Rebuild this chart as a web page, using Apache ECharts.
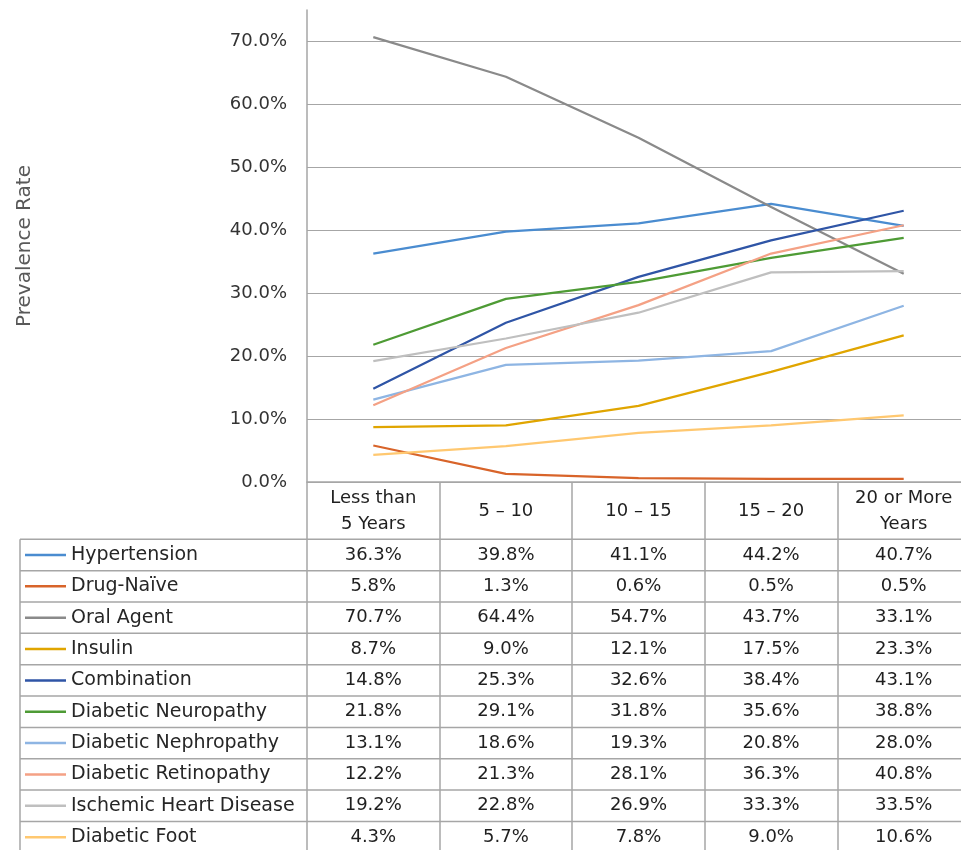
<!DOCTYPE html>
<html>
<head>
<meta charset="utf-8">
<script src="https://cdn.jsdelivr.net/npm/echarts@6/dist/echarts.min.js"></script>
<style>
  html, body { margin: 0; padding: 0; background: #fff; }
  #main { width: 961px; height: 850px; }
</style>
</head>
<body>
<div id="main"></div>
<script>
// data
var categories = ['Less than\n5 Years', '5 – 10', '10 – 15', '15 – 20', '20 or More\nYears'];
var seriesNames = ['Hypertension', 'Drug-Naïve', 'Oral Agent', 'Insulin', 'Combination',
  'Diabetic Neuropathy', 'Diabetic Nephropathy', 'Diabetic Retinopathy', 'Ischemic Heart Disease', 'Diabetic Foot'];
var hypertension = [36.3, 39.8, 41.1, 44.2, 40.7];
var drugNaive = [5.8, 1.3, 0.6, 0.5, 0.5];
var oralAgent = [70.7, 64.4, 54.7, 43.7, 33.1];
var insulin = [8.7, 9.0, 12.1, 17.5, 23.3];
var combination = [14.8, 25.3, 32.6, 38.4, 43.1];
var neuropathy = [21.8, 29.1, 31.8, 35.6, 38.8];
var nephropathy = [13.1, 18.6, 19.3, 20.8, 28.0];
var retinopathy = [12.2, 21.3, 28.1, 36.3, 40.8];
var ischemic = [19.2, 22.8, 26.9, 33.3, 33.5];
var foot = [4.3, 5.7, 7.8, 9.0, 10.6];
var values = [hypertension, drugNaive, oralAgent, insulin, combination,
  neuropathy, nephropathy, retinopathy, ischemic, foot];
var colors = ['#4A8CD0', '#D8642A', '#8A8A8A', '#E0A500', '#2F55A6',
  '#4E9B35', '#8EB5E3', '#F4A185', '#BFBFBF', '#FFC870'];

// layout
var plotLeft = 307, plotTop = 10, plotW = 663, plotBottom = 482;
var tableLeft = 20, tableTop = 539.3, rowH = 31.35;
var lineCol = '#A6A6A6';
var font = 'DejaVu Sans';

var myChart = echarts.init(document.getElementById('main'));

var lineSeries = seriesNames.map(function (name, i) {
  return {
    name: name,
    type: 'line',
    xAxisIndex: 0,
    yAxisIndex: 0,
    data: values[i],
    symbol: 'none',
    lineStyle: { width: 2.25, color: colors[i] },
    itemStyle: { color: colors[i] },
    z: 3
  };
});

var cells = [];
values.forEach(function (row, i) {
  row.forEach(function (v, j) {
    cells.push([j, i, v]);
  });
});

var tableLines = [];
for (var k = 0; k <= seriesNames.length; k++) {
  tableLines.push({
    type: 'line',
    shape: { x1: tableLeft, y1: tableTop + k * rowH, x2: plotLeft + plotW, y2: tableTop + k * rowH },
    style: { stroke: lineCol, lineWidth: 1.5 }
  });
}
tableLines.push({
  type: 'line',
  shape: { x1: tableLeft, y1: tableTop, x2: tableLeft, y2: 850 },
  style: { stroke: lineCol, lineWidth: 1.5 }
});

option = {
  color: colors,
  textStyle: { fontFamily: font },
  grid: [
    { left: plotLeft, top: plotTop, width: plotW, height: plotBottom - plotTop, outerBoundsMode: 'none', containLabel: false },
    { left: plotLeft, top: tableTop, width: plotW, height: rowH * seriesNames.length, outerBoundsMode: 'none', containLabel: false }
  ],
  legend: {
    data: seriesNames,
    orient: 'vertical',
    left: 25,
    top: tableTop + rowH / 2 - 10,
    padding: 0,
    icon: 'rect',
    itemWidth: 41,
    itemHeight: 2.5,
    itemGap: rowH - 20,
    selectedMode: false,
    textStyle: { fontFamily: font, fontSize: 19, color: '#262626', lineHeight: 20 }
  },
  xAxis: [{
    type: 'category',
    gridIndex: 0,
    data: categories,
    axisLine: { show: true, lineStyle: { color: lineCol, width: 1.5 } },
    axisTick: { show: true, interval: 0, length: 372, lineStyle: { color: lineCol, width: 1.5 } },
    axisLabel: {
      interval: 0,
      margin: 29,
      verticalAlign: 'middle',
      lineHeight: 26,
      fontFamily: font,
      fontSize: 18,
      color: '#1f1f1f'
    }
  }, {
    type: 'category',
    gridIndex: 1,
    data: categories,
    show: false
  }],
  yAxis: [{
    type: 'value',
    gridIndex: 0,
    min: 0,
    max: 75,
    interval: 10,
    name: 'Prevalence Rate',
    nameLocation: 'middle',
    nameRotate: 90,
    nameGap: 272,
    nameTextStyle: { fontFamily: font, fontSize: 20, color: '#595959' },
    axisLine: { show: true, lineStyle: { color: lineCol, width: 1.5 } },
    axisTick: { show: false },
    axisLabel: {
      margin: 20,
      showMaxLabel: false,
      fontFamily: font,
      fontSize: 18,
      color: '#333333',
      formatter: function (v) { return v.toFixed(1) + '%'; }
    },
    splitLine: { show: true, showMaxLine: false, lineStyle: { color: lineCol, width: 1.2 } }
  }, {
    type: 'category',
    gridIndex: 1,
    data: seriesNames,
    inverse: true,
    show: false
  }],
  graphic: tableLines,
  series: lineSeries.concat([{
    name: 'table',
    type: 'scatter',
    xAxisIndex: 1,
    yAxisIndex: 1,
    data: cells,
    symbolSize: 1,
    itemStyle: { color: '#fff', opacity: 0 },
    silent: true,
    label: {
      show: true,
      position: 'inside',
      fontFamily: font,
      fontSize: 18,
      color: '#1f1f1f',
      opacity: 1,
      formatter: function (p) { return p.value[2].toFixed(1) + '%'; }
    }
  }])
};
myChart.setOption(option);
</script>
</body>
</html>
